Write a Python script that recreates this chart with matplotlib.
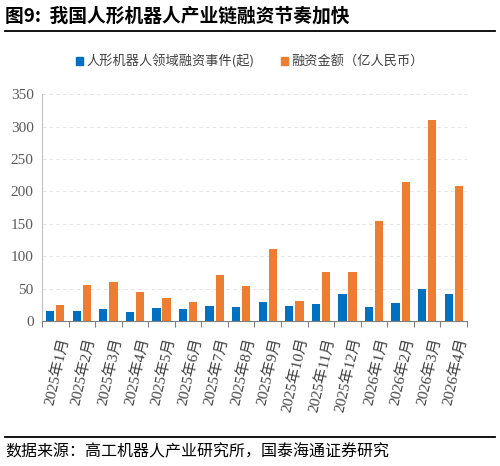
import numpy as np
import matplotlib.pyplot as plt
from matplotlib.lines import Line2D

plt.rcParams['font.family'] = ['Liberation Serif', 'Noto Sans CJK SC', 'DejaVu Sans']

months = ['2025年1月', '2025年2月', '2025年3月', '2025年4月', '2025年5月', '2025年6月',
          '2025年7月', '2025年8月', '2025年9月', '2025年10月', '2025年11月', '2025年12月',
          '2026年1月', '2026年2月', '2026年3月', '2026年4月']
events = [16, 16, 18, 14, 20, 19, 24, 21, 30, 24, 27, 42, 21, 28, 50, 42]
amount = [25, 55, 61, 45, 35, 30, 71, 54, 111, 31, 75, 75, 155, 215, 310, 208]

blue = '#0070C0'
orange = '#ED7D31'
cjk = ['Noto Sans CJK SC', 'DejaVu Sans']

fig = plt.figure(figsize=(5, 4.66), dpi=100)
ax = fig.add_axes([0.084, 0.311, 0.85, 0.487])

x = np.arange(len(months))
w = 0.31
ax.bar(x - w / 2 - 0.035, events, w, color=blue, label='人形机器人领域融资事件(起)')
ax.bar(x + w / 2 + 0.035, amount, w, color=orange, label='融资金额（亿人民币）')

ax.set_xlim(-0.5, len(months) - 0.5)
ax.set_ylim(0, 350)
ax.set_yticks(range(0, 351, 50))
ax.yaxis.grid(True, color='#e6e6e6', linestyle=(0, (4, 3)), linewidth=0.7)
ax.set_axisbelow(True)
for s in ['top', 'right']:
    ax.spines[s].set_visible(False)
ax.spines['left'].set_color('#bfbfbf')
ax.spines['bottom'].set_color('#7f7f7f')
ax.tick_params(axis='y', length=0, labelsize=11, colors='#595959', pad=6)

ax.set_xticks(np.arange(-0.5, len(months), 1), minor=False)
ax.set_xticklabels([])
ax.tick_params(axis='x', which='major', length=4, color='#7f7f7f', direction='out')
ax.set_xticks(x + 0.1, minor=True)
ax.set_xticklabels(months, minor=True, rotation=77, ha='right', va='top',
                   rotation_mode='anchor', fontsize=11, color='#404040')
ax.tick_params(axis='x', which='minor', length=0, pad=11)

fig.text(0.01, 0.965, '图9:  我国人形机器人产业链融资节奏加快', fontsize=13.5,
         fontweight='bold', family=cjk, ha='left', va='center')
fig.add_artist(Line2D([0.01, 0.99], [0.933, 0.933], color='black', lw=1.3))

h1 = plt.Rectangle((0, 0), 1, 1, color=blue)
h2 = plt.Rectangle((0, 0), 1, 1, color=orange)
fig.legend([h1, h2], ['人形机器人领域融资事件(起)', '融资金额（亿人民币）'],
           loc='center', bbox_to_anchor=(0.5, 0.868), ncol=2, frameon=False,
           prop={'family': cjk, 'size': 9.5}, handlelength=0.5, handleheight=0.6,
           handletextpad=0.3, columnspacing=2.0, labelcolor='#404040')

fig.add_artist(Line2D([0.01, 0.99], [0.062, 0.062], color='black', lw=1.3))
fig.text(0.01, 0.03, '数据来源：高工机器人产业研究所，国泰海通证券研究', fontsize=11.5,
         family=cjk, ha='left', va='center')

fig.savefig('out.png', dpi=100)
